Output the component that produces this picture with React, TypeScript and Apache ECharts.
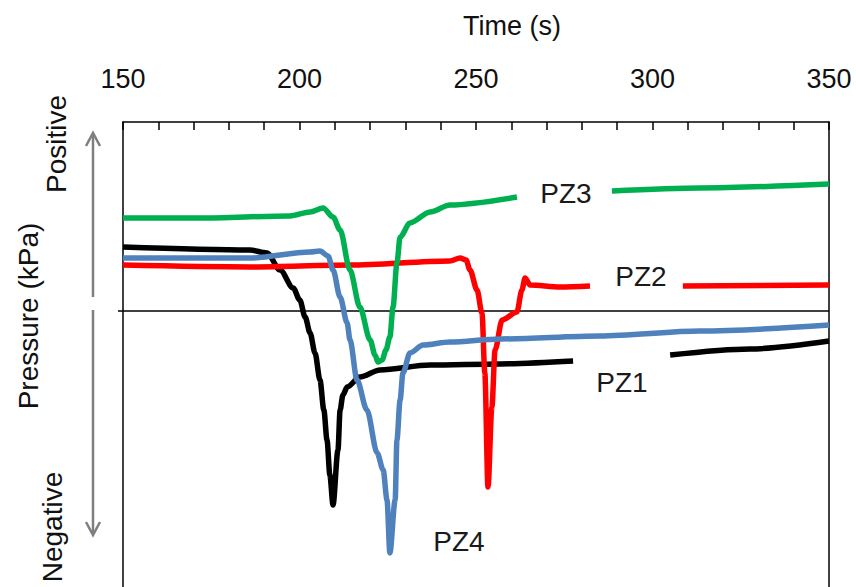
import React, { useEffect, useRef } from "react";
import * as echarts from "echarts";

// Time (s) and pressure (kPa, relative)
const pz1Time = [150, 186, 190.8, 194.5, 198.2, 200.1, 201.6, 203.0, 204.4, 205.8, 206.9, 207.8, 208.6, 209.5, 210.9, 211.5, 212.3, 213.5, 217.1, 222.8, 237.0, 256.8, 277.5, 277.6, 305.0, 327.6, 350];
const pz1Value = [3.39, 3.23, 3.07, 2.17, 1.22, 0.58, -0.32, -1.16, -2.22, -3.65, -5.24, -6.83, -8.68, -10.26, -7.35, -5.24, -4.44, -4.02, -3.49, -3.12, -2.86, -2.8, -2.65, null, -2.33, -2.01, -1.59];

const pz2Time = [150, 186, 214.3, 242.6, 245.5, 247.2, 248.3, 250.3, 251.7, 252.5, 253.4, 254.5, 255.4, 257.4, 261.6, 263.0, 263.9, 265.3, 273.8, 282.3, 282.4, 308.6, 350];
const pz2Value = [2.43, 2.33, 2.43, 2.65, 2.8, 2.7, 2.17, 1.11, -0.11, -3.28, -9.31, -5.08, -2.06, -0.48, -0.05, 1.11, 1.75, 1.38, 1.27, 1.32, null, 1.32, 1.38];

const pz3Time = [150, 171.8, 197.3, 203.0, 206.7, 209.5, 211.5, 214.3, 217.1, 220.0, 221.4, 222.2, 223.4, 224.5, 225.6, 226.5, 227.6, 228.5, 231.3, 237.0, 242.6, 261.6, 261.7, 288.5, 313.5, 350];
const pz3Value = [4.92, 4.92, 5.03, 5.24, 5.45, 4.97, 4.29, 2.17, 0.21, -1.53, -2.33, -2.7, -2.59, -2.06, -1.38, 0.21, 2.54, 3.92, 4.66, 5.24, 5.61, 6.03, null, 6.35, 6.51, 6.72];

const pz4Time = [150, 186, 203.0, 205.8, 208.1, 209.5, 211.5, 213.5, 214.3, 216.3, 219.1, 222.0, 223.7, 224.8, 225.6, 227.1, 227.6, 228.5, 229.3, 231.3, 235.0, 242.6, 256.8, 285.1, 313.5, 350];
const pz4Value = [2.8, 2.8, 3.12, 3.17, 2.91, 2.17, 0.74, -0.63, -1.53, -3.65, -5.24, -7.51, -8.41, -10.0, -12.8, -10.0, -6.83, -4.71, -3.28, -2.22, -1.8, -1.64, -1.48, -1.32, -1.06, -0.74];

const seriesNames = ["PZ1", "PZ2", "PZ3", "PZ4"];
const seriesColors = ["#000000", "#ff0000", "#00b050", "#4f81bd"];
const xTickLabels = [150, 200, 250, 300, 350];

const zip = (t: number[], v: (number | null)[]) => t.map((x, i) => [x, v[i]]);

export default function App() {
  const ref = useRef<HTMLDivElement>(null);
  useEffect(() => {
    if (!ref.current) return;
    const chart = echarts.init(ref.current, null, { renderer: "svg" });
    const font = "'Liberation Sans', Arial, sans-serif";
    const datasets = [zip(pz1Time, pz1Value), zip(pz2Time, pz2Value), zip(pz3Time, pz3Value), zip(pz4Time, pz4Value)];
    const labelPos = [
      [622, 382],
      [641, 276],
      [566, 193],
      [459, 541],
    ];
    const axisLineStyle = { color: "#000", width: 1.5 };
    chart.setOption({
      animation: false,
      backgroundColor: "#ffffff",
      grid: {
        left: 123,
        top: 122,
        width: 706,
        height: 472.5,
        show: false,
      },
      xAxis: {
        type: "value",
        position: "top",
        min: 150,
        max: 350,
        interval: 10,
        z: 10,
        axisLine: { show: true, onZero: false, lineStyle: axisLineStyle },
        axisTick: { show: true, inside: true, length: 8, lineStyle: axisLineStyle },
        axisLabel: {
          show: true,
          margin: 30,
          fontSize: 27,
          color: "#111",
          fontFamily: font,
          formatter: (v: number) => (xTickLabels.includes(v) ? String(v) : ""),
        },
        splitLine: { show: false },
      },
      yAxis: [
        {
          type: "value",
          min: -15,
          max: 10,
          position: "left",
          axisLine: { show: true, onZero: false, lineStyle: axisLineStyle },
          axisTick: { show: true, customValues: [0], length: 5, lineStyle: axisLineStyle },
          axisLabel: { show: false },
          splitLine: { show: false },
        },
        {
          type: "value",
          min: -15,
          max: 10,
          position: "right",
          axisLine: { show: true, onZero: false, lineStyle: axisLineStyle },
          axisTick: { show: false },
          axisLabel: { show: false },
          splitLine: { show: false },
        },
      ],
      series: datasets.map((d, i) => ({
        name: seriesNames[i],
        type: "line",
        data: d,
        showSymbol: false,
        symbol: "none",
        smooth: 0.3,
        smoothMonotone: "x",
        connectNulls: false,
        lineStyle: { color: seriesColors[i], width: 5.5 },
        z: 3 + i,
        markLine:
          i === 0
            ? {
                silent: true,
                symbol: "none",
                label: { show: false },
                lineStyle: { color: "#000", width: 1.5, type: "solid" },
                data: [{ yAxis: 0 }],
                z: 1,
              }
            : undefined,
      })),
      graphic: [
        {
          type: "text",
          x: 512,
          y: 26,
          style: { text: "Time (s)", fontSize: 27, fontFamily: font, fill: "#111", textAlign: "center", textVerticalAlign: "middle" },
        },
        {
          type: "text",
          x: 28,
          y: 316,
          rotation: Math.PI / 2,
          style: { text: "Pressure (kPa)", fontSize: 28, fontFamily: font, fill: "#111", textAlign: "center", textVerticalAlign: "middle" },
        },
        {
          type: "text",
          x: 56,
          y: 144,
          rotation: Math.PI / 2,
          style: { text: "Positive", fontSize: 28, fontFamily: font, fill: "#111", textAlign: "center", textVerticalAlign: "middle" },
        },
        {
          type: "text",
          x: 52,
          y: 527,
          rotation: Math.PI / 2,
          style: { text: "Negative", fontSize: 28, fontFamily: font, fill: "#111", textAlign: "center", textVerticalAlign: "middle" },
        },
        { type: "line", shape: { x1: 93, y1: 297, x2: 93, y2: 134 }, style: { stroke: "#7f7f7f", lineWidth: 2.5 } },
        { type: "polyline", shape: { points: [[86, 146], [93, 133], [100, 146]] }, style: { stroke: "#7f7f7f", lineWidth: 2.5, fill: "none" } },
        { type: "line", shape: { x1: 93, y1: 310, x2: 93, y2: 534 }, style: { stroke: "#7f7f7f", lineWidth: 2.5 } },
        { type: "polyline", shape: { points: [[86, 522], [93, 535], [100, 522]] }, style: { stroke: "#7f7f7f", lineWidth: 2.5, fill: "none" } },
        ...seriesNames.map((n, i) => ({
          type: "text",
          x: labelPos[i][0],
          y: labelPos[i][1],
          z: 10,
          style: { text: n, fontSize: 28, fontFamily: font, fill: "#1a1a1a", textAlign: "center", textVerticalAlign: "middle" },
        })),
      ],
    });
    return () => chart.dispose();
  }, []);
  return <div ref={ref} style={{ position: "absolute", left: 0, top: 0, width: 856, height: 600 }} />;
}
